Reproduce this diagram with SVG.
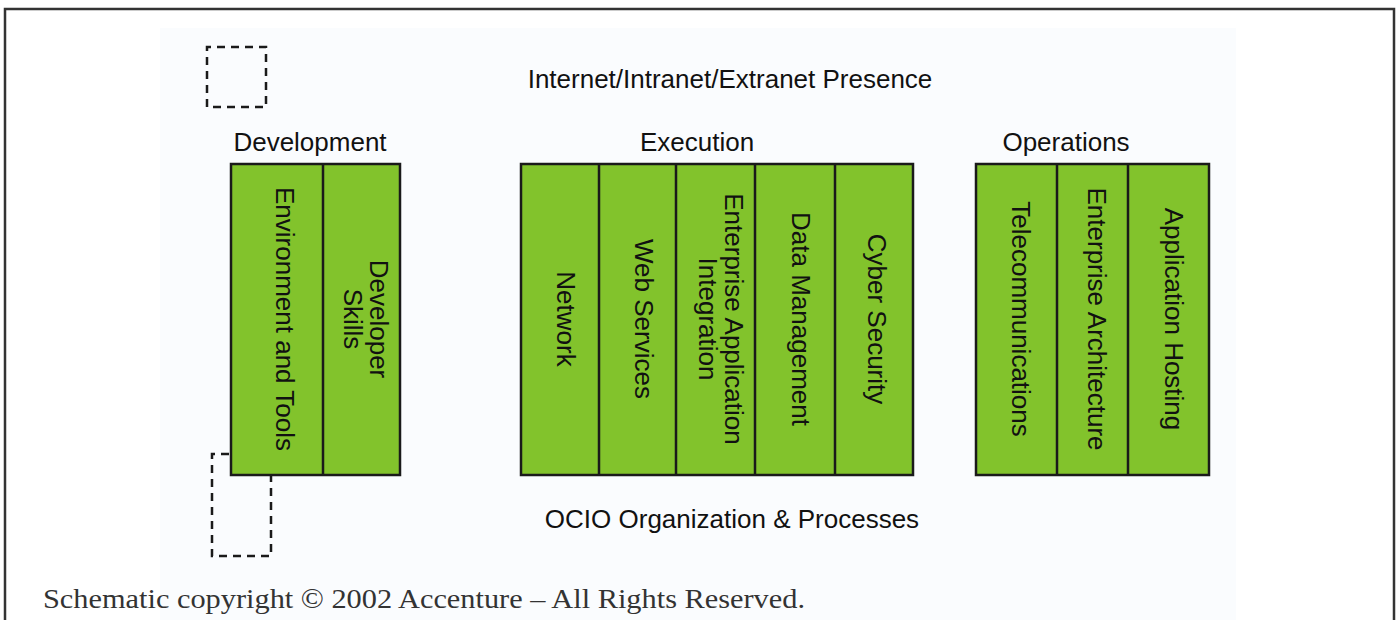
<svg xmlns="http://www.w3.org/2000/svg" width="1400" height="620" viewBox="0 0 1400 620">
  <style>
    .lbl { font-family: "Liberation Sans", Arial, sans-serif; font-size: 26px; fill: #111; }
    .mid { text-anchor: middle; }
    .col { fill: #82c32c; stroke: #1a1a1a; stroke-width: 2.5; }
    .div { stroke: #1a1a1a; stroke-width: 2.5; fill: none; }
    .dash { stroke: #1a1a1a; stroke-width: 2.5; fill: none; stroke-dasharray: 8 6; }
    .note { font-family: "Liberation Serif", "Times New Roman", serif; font-size: 28px; fill: #333; }
  </style>

  <rect width="1400" height="620" fill="#ffffff"/>
  <!-- page frame, open at the bottom -->
  <path d="M5,620 V9 H1394 V620" fill="none" stroke="#333" stroke-width="2.5"/>
  <!-- faint panel behind the schematic -->
  <rect x="160" y="28" width="1076" height="592" fill="#fafcfe"/>

  <text class="lbl mid" x="730" y="88">Internet/Intranet/Extranet Presence</text>
  <text class="lbl mid" x="732" y="528">OCIO Organization &amp; Processes</text>

  <g id="connectors">
    <!-- dashed marker boxes -->
    <path class="dash" d="M207,107 V47 H266 V107 H207"/>
    <path class="dash" d="M229,454 H212 V556 H271 V476"/>
  </g>

  <g id="development">
    <text class="lbl mid" x="310" y="151">Development</text>
    <rect class="col" x="231" y="164" width="169" height="311"/>
    <line class="div" x1="323" y1="164" x2="323" y2="475"/>
    <text class="lbl mid" transform="translate(276,319) rotate(90)">Environment and Tools</text>
    <text class="lbl mid" transform="translate(370,319) rotate(90)"><tspan x="0" y="0">Developer</tspan><tspan x="0" y="26">Skills</tspan></text>
  </g>

  <g id="execution">
    <text class="lbl mid" x="697" y="151">Execution</text>
    <rect class="col" x="521" y="164" width="392" height="311"/>
    <line class="div" x1="599" y1="164" x2="599" y2="475"/>
    <line class="div" x1="676" y1="164" x2="676" y2="475"/>
    <line class="div" x1="755" y1="164" x2="755" y2="475"/>
    <line class="div" x1="835" y1="164" x2="835" y2="475"/>
    <text class="lbl mid" transform="translate(557,319) rotate(90)">Network</text>
    <text class="lbl mid" transform="translate(635,319) rotate(90)">Web Services</text>
    <text class="lbl mid" transform="translate(725,319) rotate(90)"><tspan x="0" y="0">Enterprise Application</tspan><tspan x="0" y="26">Integration</tspan></text>
    <text class="lbl mid" transform="translate(792,319) rotate(90)">Data Management</text>
    <text class="lbl mid" transform="translate(868,319) rotate(90)">Cyber Security</text>
  </g>

  <g id="operations">
    <text class="lbl mid" x="1066" y="151">Operations</text>
    <rect class="col" x="976" y="164" width="233" height="311"/>
    <line class="div" x1="1057" y1="164" x2="1057" y2="475"/>
    <line class="div" x1="1128" y1="164" x2="1128" y2="475"/>
    <text class="lbl mid" transform="translate(1012,319) rotate(90)">Telecommunications</text>
    <text class="lbl mid" transform="translate(1088,319) rotate(90)">Enterprise Architecture</text>
    <text class="lbl mid" transform="translate(1165,319) rotate(90)">Application Hosting</text>
  </g>

  <text class="note" x="43" y="608" textLength="762" lengthAdjust="spacingAndGlyphs">Schematic copyright © 2002 Accenture – All Rights Reserved.</text>
</svg>
